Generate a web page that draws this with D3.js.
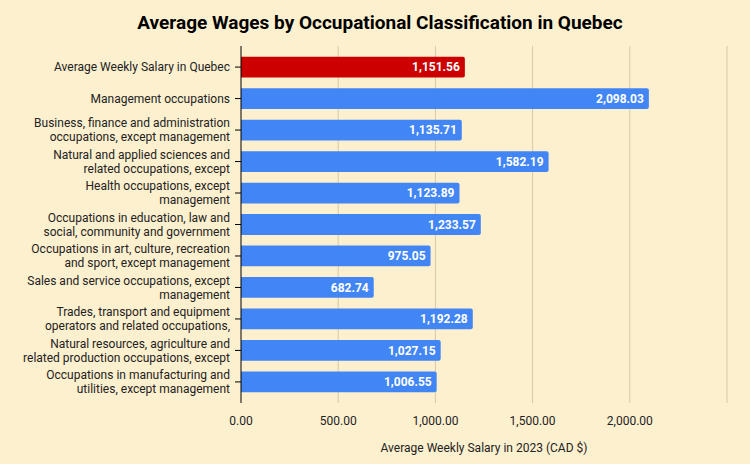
<!DOCTYPE html>
<html><head><meta charset="utf-8">
<script src="https://cdn.jsdelivr.net/npm/d3@7"></script>
<style>body{margin:0;background:#fdf0cf}svg{display:block;font-family:Roboto,sans-serif}</style>
</head><body><svg id="chart" width="750" height="464"></svg>
<script>
var categories = [
    ["Average Weekly Salary in Quebec"],
    ["Management occupations"],
    ["Business, finance and administration", "occupations, except management"],
    ["Natural and applied sciences and", "related occupations, except"],
    ["Health occupations, except", "management"],
    ["Occupations in education, law and", "social, community and government"],
    ["Occupations in art, culture, recreation", "and sport, except management"],
    ["Sales and service occupations, except", "management"],
    ["Trades, transport and equipment", "operators and related occupations,"],
    ["Natural resources, agriculture and", "related production occupations, except"],
    ["Occupations in manufacturing and", "utilities, except management"]
]
var salaries = [1151.56, 2098.03, 1135.71, 1582.19, 1123.89, 1233.57, 975.05, 682.74, 1192.28, 1027.15, 1006.55]
var tickValues = [0, 500, 1000, 1500, 2000, 2500]

var svg = d3.select('#chart')
var idx = d3.range(salaries.length)

var x = d3.scaleLinear().domain([0, 2500]).range([241, 727])
var y = d3.scaleBand().domain(idx).range([46, 403]).padding(0.34)
var fmt = d3.format(',.2f')

svg.append('rect').attr('width', 750).attr('height', 464).attr('fill', '#fdf0cf')

// gridlines //
svg.selectAll('.grid').data(tickValues.slice(1)).enter().append('line')
    .attr('x1', d => x(d)).attr('x2', d => x(d))
    .attr('y1', 46).attr('y2', 403)
    .attr('stroke', '#d6c9a8').attr('stroke-width', 1)

// bars //
svg.selectAll('.bar').data(idx).enter().append('path')
    .attr('d', function(i) {
        var x0 = x(0), x1 = x(salaries[i]), y0 = y(i), h = y.bandwidth(), r = 2
        return 'M' + x0 + ',' + y0 + 'H' + (x1 - r) + 'Q' + x1 + ',' + y0 + ' ' + x1 + ',' + (y0 + r)
            + 'V' + (y0 + h - r) + 'Q' + x1 + ',' + (y0 + h) + ' ' + (x1 - r) + ',' + (y0 + h) + 'H' + x0 + 'Z'
    })
    .attr('fill', i => i === 0 ? '#cc0000' : '#4285f4')

svg.selectAll('.val').data(idx).enter().append('text')
    .attr('x', i => x(salaries[i]) - 5)
    .attr('y', i => y(i) + y.bandwidth() / 2)
    .attr('dy', '0.35em')
    .attr('text-anchor', 'end')
    .attr('fill', '#fff').attr('font-weight', 'bold').attr('font-size', 12)
    .text(i => fmt(salaries[i]))

// axis line and ticks //
svg.append('line').attr('x1', 241).attr('x2', 241).attr('y1', 46).attr('y2', 403)
    .attr('stroke', '#000')
svg.selectAll('.tick').data(idx).enter().append('line')
    .attr('x1', 235).attr('x2', 241)
    .attr('y1', i => y(i) + y.bandwidth() / 2).attr('y2', i => y(i) + y.bandwidth() / 2)
    .attr('stroke', '#000')

// category labels //
var labels = svg.selectAll('.lab').data(idx).enter().append('text')
    .attr('text-anchor', 'end').attr('font-size', 12).attr('fill', '#222')
labels.each(function(i) {
    var lines = categories[i]
    var cy = y(i) + y.bandwidth() / 2
    var t = d3.select(this)
    lines.forEach(function(l, k) {
        t.append('tspan').attr('x', 230)
            .attr('y', cy + (k - (lines.length - 1) / 2) * 14)
            .attr('dy', '0.35em').text(l)
    })
})

// x tick labels //
svg.selectAll('.xl').data(tickValues.slice(0, 5)).enter().append('text')
    .attr('x', d => x(d)).attr('y', 425)
    .attr('text-anchor', 'middle').attr('font-size', 12).attr('fill', '#222')
    .text(d => fmt(d))

svg.append('text').attr('x', 484).attr('y', 452).attr('text-anchor', 'middle')
    .attr('font-size', 12).attr('fill', '#222')
    .text('Average Weekly Salary in 2023 (CAD $)')

svg.append('text').attr('x', 380).attr('y', 29).attr('text-anchor', 'middle')
    .attr('font-size', 19).attr('font-weight', 'bold').attr('fill', '#000')
    .text('Average Wages by Occupational Classification in Quebec')
</script></body></html>
